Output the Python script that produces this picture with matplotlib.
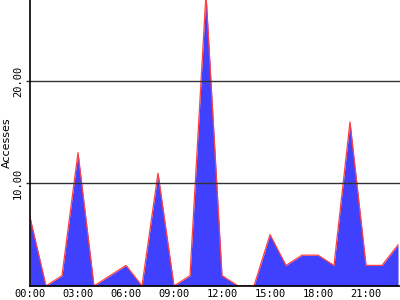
import matplotlib
matplotlib.use("Agg")
import matplotlib.pyplot as plt
import numpy as np

hours = list(range(24))
accesses = [6.7, 0, 1, 13, 0, 1, 2, 0, 11, 0, 1, 28.5,
            1, 0, 0, 5, 2, 3, 3, 2, 16, 2, 2, 4]
tick_hours = [0, 3, 6, 9, 12, 15, 18, 21]
tick_labels = ["00:00", "03:00", "06:00", "09:00", "12:00", "15:00", "18:00", "21:00"]
y_ticks = [10, 20]
y_labels = ["10.00", "20.00"]

fig = plt.figure(figsize=(4, 3), dpi=100)
ax = fig.add_axes([0.075, 0.047, 0.925, 0.953])

ax.fill_between(hours, accesses, 0, color="#4040ff", linewidth=0, zorder=2)
ax.plot(hours, accesses, color="#ff4040", linewidth=0.9, zorder=3)

for y in y_ticks:
    ax.axhline(y, color="#333333", linewidth=1, zorder=4)

ax.set_xlim(0, 370 / 16)
ax.set_ylim(0, 27.9)

ax.set_xticks(tick_hours)
ax.set_xticklabels(tick_labels, family="DejaVu Sans Mono", fontsize=7.5)
ax.set_yticks(y_ticks)
ax.set_yticklabels(y_labels, family="DejaVu Sans Mono", fontsize=7.5,
                   rotation=90, va="center")
ax.tick_params(axis="x", length=0, pad=2)
ax.tick_params(axis="y", length=3, width=1, color="#333333", pad=2)
ax.set_ylabel("Accesses", fontsize=8, labelpad=1)

ax.spines["top"].set_visible(False)
ax.spines["right"].set_visible(False)
ax.spines["left"].set_linewidth(1.2)
ax.spines["bottom"].set_linewidth(1.2)
ax.spines["left"].set_zorder(5)
ax.spines["bottom"].set_zorder(5)

fig.savefig("out.png", dpi=100)
